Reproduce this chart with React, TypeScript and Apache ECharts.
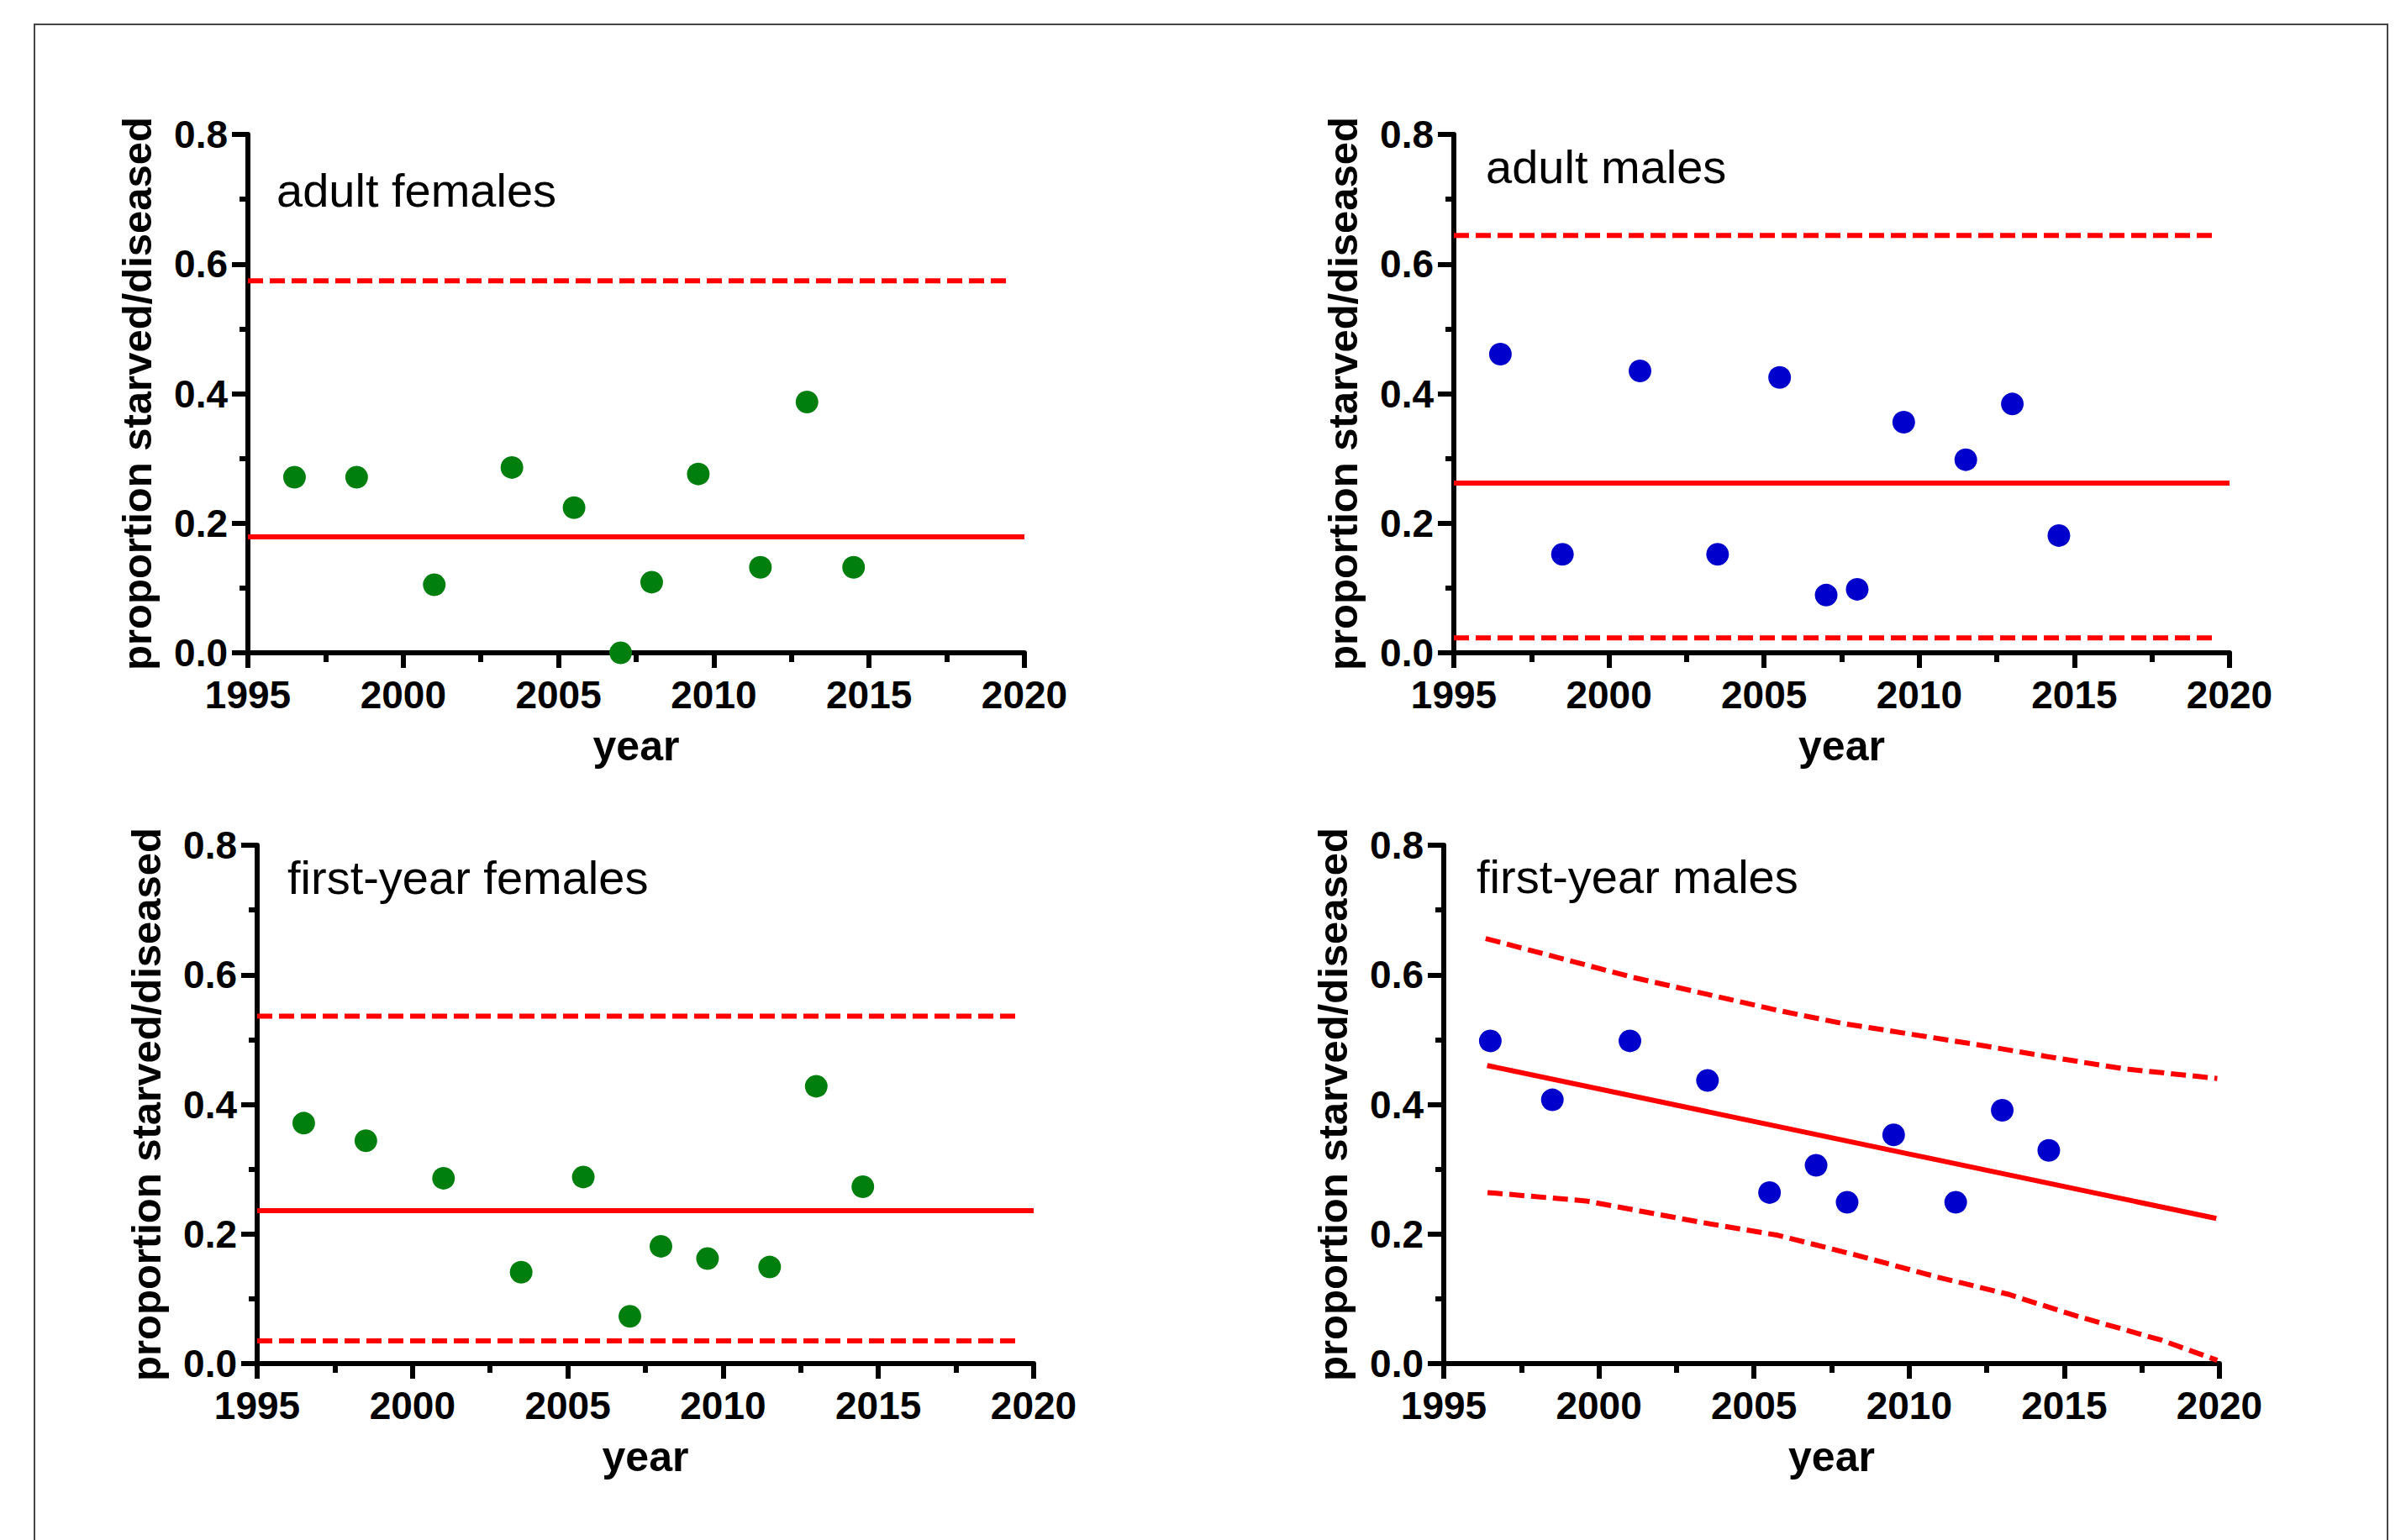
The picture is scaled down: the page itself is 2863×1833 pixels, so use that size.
import React, { useEffect, useRef } from "react";
import * as echarts from "echarts";

// ---- data ----
const years = [1996.5, 1998.5, 2001, 2003.5, 2005.5, 2007, 2008, 2009.5, 2011.5, 2013, 2014.5];
const adultFemales = [0.271, 0.271, 0.105, 0.286, 0.224, 0.0, 0.109, 0.276, 0.132, 0.387, 0.132];
const adultMales = [0.461, 0.152, 0.435, 0.152, 0.425, 0.089, 0.098, 0.356, 0.298, 0.384, 0.181];
const firstYearFemales = [0.371, 0.344, 0.286, 0.141, 0.288, 0.073, 0.181, 0.162, 0.149, 0.428, 0.273];
const firstYearMales = [0.498, 0.407, 0.498, 0.437, 0.264, 0.306, 0.249, 0.353, 0.249, 0.391, 0.329];

// horizontal mean lines and confidence limits
const flatMeanYears = [1995, 2020];
const flatLimitYears = [1995, 2019.6];
const adultFemalesMean = 0.179;
const adultFemalesUpper = 0.574;
const adultMalesMean = 0.262;
const adultMalesUpper = 0.644;
const adultMalesLower = 0.023;
const firstYearFemalesMean = 0.236;
const firstYearFemalesUpper = 0.536;
const firstYearFemalesLower = 0.035;

// first-year males trend and confidence band
const trendYears = [1996.4, 2019.9];
const trendValues = [0.46, 0.224];
const upperBandYears = [1996.35, 2001.1, 2005.77, 2007.84, 2011.96, 2014.43, 2016.91, 2019.93];
const upperBandValues = [0.656, 0.596, 0.545, 0.525, 0.494, 0.474, 0.455, 0.44];
const lowerBandYears = [1996.41, 1999.58, 2003.29, 2005.77, 2008.24, 2010.87, 2013.19, 2015.42, 2018.14, 2019.93];
const lowerBandValues = [0.264, 0.251, 0.218, 0.198, 0.168, 0.134, 0.107, 0.073, 0.036, 0.005];

const panelTitles = ["adult females", "adult males", "first-year females", "first-year males"];
const xTitle = "year";
const yTitle = "proportion starved/diseased";

const GREEN = "#007f0e";
const BLUE = "#0000cc";
const RED = "#ff0000";
const FONT = "'Liberation Sans', Arial, Helvetica, sans-serif";

const zip = (xs: number[], ys: number[]) => xs.map((x, i) => [x, ys[i]]);
const flat = (xs: number[], v: number) => xs.map((x) => [x, v]);

export default function App() {
  const ref = useRef<HTMLDivElement>(null);

  useEffect(() => {
    if (!ref.current) return;
    const chart = echarts.init(ref.current, null, { renderer: "svg" });

    const grids = [
      { left: 295, top: 160, width: 924, height: 617 },
      { left: 1730, top: 160, width: 923, height: 617 },
      { left: 306, top: 1006, width: 924, height: 617 },
      { left: 1718, top: 1006, width: 923, height: 617 },
    ];
    const titlePos = [
      [329, 226],
      [1768, 198],
      [342, 1044],
      [1757, 1043],
    ];

    const axisLineStyle = { color: "#000", width: 6 };

    const xAxes = grids.map((_, i) => ({
      type: "value",
      gridIndex: i,
      min: 1995,
      max: 2020,
      interval: 5,
      name: xTitle,
      nameLocation: "middle",
      nameGap: 86,
      nameTextStyle: { fontSize: 50, fontWeight: "bold", color: "#000", fontFamily: FONT },
      axisLine: { show: true, onZero: false, lineStyle: axisLineStyle },
      axisTick: { show: true, length: 18, lineStyle: axisLineStyle },
      minorTick: { show: true, splitNumber: 2, length: 11, lineStyle: axisLineStyle },
      splitLine: { show: false },
      minorSplitLine: { show: false },
      axisLabel: {
        fontSize: 46,
        fontWeight: "bold",
        color: "#000",
        fontFamily: FONT,
        margin: 27,
        formatter: (v: number) => String(v),
      },
    }));

    const yAxes = grids.map((_, i) => ({
      type: "value",
      gridIndex: i,
      min: 0,
      max: 0.8,
      interval: 0.2,
      name: yTitle,
      nameLocation: "middle",
      nameGap: 108,
      nameTextStyle: { fontSize: 49, fontWeight: "bold", color: "#000", fontFamily: FONT },
      axisLine: { show: true, onZero: false, lineStyle: axisLineStyle },
      axisTick: { show: true, length: 19, lineStyle: axisLineStyle },
      minorTick: { show: true, splitNumber: 2, length: 10, lineStyle: axisLineStyle },
      splitLine: { show: false },
      minorSplitLine: { show: false },
      axisLabel: {
        fontSize: 46,
        fontWeight: "bold",
        color: "#000",
        fontFamily: FONT,
        margin: 24,
        formatter: (v: number) => v.toFixed(1),
      },
    }));

    const solid = (idx: number, data: number[][]) => ({
      type: "line",
      xAxisIndex: idx,
      yAxisIndex: idx,
      data,
      showSymbol: false,
      symbol: "none",
      clip: false,
      lineStyle: { color: RED, width: 6 },
      z: 2,
    });
    const dashed = (idx: number, data: number[][]) => ({
      type: "line",
      xAxisIndex: idx,
      yAxisIndex: idx,
      data,
      showSymbol: false,
      symbol: "none",
      clip: false,
      lineStyle: { color: RED, width: 6, type: [18, 8] },
      z: 2,
    });
    const dots = (idx: number, values: number[], color: string) => ({
      type: "scatter",
      xAxisIndex: idx,
      yAxisIndex: idx,
      data: zip(years, values),
      symbol: "circle",
      symbolSize: 27,
      clip: false,
      itemStyle: { color, opacity: 1 },
      z: 3,
    });

    const series = [
      solid(0, flat(flatMeanYears, adultFemalesMean)),
      dashed(0, flat(flatLimitYears, adultFemalesUpper)),
      dots(0, adultFemales, GREEN),

      solid(1, flat(flatMeanYears, adultMalesMean)),
      dashed(1, flat(flatLimitYears, adultMalesUpper)),
      dashed(1, flat(flatLimitYears, adultMalesLower)),
      dots(1, adultMales, BLUE),

      solid(2, flat(flatMeanYears, firstYearFemalesMean)),
      dashed(2, flat(flatLimitYears, firstYearFemalesUpper)),
      dashed(2, flat(flatLimitYears, firstYearFemalesLower)),
      dots(2, firstYearFemales, GREEN),

      solid(3, zip(trendYears, trendValues)),
      dashed(3, zip(upperBandYears, upperBandValues)),
      dashed(3, zip(lowerBandYears, lowerBandValues)),
      dots(3, firstYearMales, BLUE),
    ];

    const graphic: any[] = [
      {
        type: "rect",
        shape: { x: 41, y: 29, width: 2800, height: 1900 },
        style: { fill: "none", stroke: "#444", lineWidth: 2 },
        silent: true,
        z: -1,
      },
      ...panelTitles.map((t, i) => ({
        type: "text",
        x: titlePos[i][0],
        y: titlePos[i][1],
        style: {
          text: t,
          fontSize: 56,
          fontFamily: FONT,
          fill: "#000",
          align: "left",
          verticalAlign: "middle",
        },
        silent: true,
      })),
    ];

    chart.setOption({
      animation: false,
      backgroundColor: "#ffffff",
      grid: grids.map((g) => ({ ...g, containLabel: false })),
      xAxis: xAxes,
      yAxis: yAxes,
      series,
      graphic,
    } as any);

    return () => chart.dispose();
  }, []);

  return (
    <div
      ref={ref}
      style={{ position: "absolute", left: 0, top: 0, width: 2863, height: 1833, background: "#fff" }}
    />
  );
}
